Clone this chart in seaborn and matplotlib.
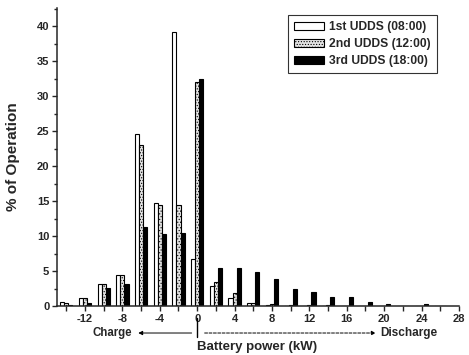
import numpy as np
import pandas as pd
import matplotlib
matplotlib.use("Agg")
import matplotlib.pyplot as plt
from matplotlib.ticker import MultipleLocator
import seaborn as sns

# Battery power bins (kW) and share of operating time (%) per drive cycle
power_kw = [-14, -12, -10, -8, -6, -4, -2, 0, 2, 4, 6, 8, 10, 12, 14, 16, 18, 20, 22, 24, 26]
udds_1st = [0.55, 1.1, 3.2, 4.5, 24.6, 14.7, 39.2, 6.7, 2.8, 1.2, 0.45, 0.15, 0.05, 0.05, 0.05, 0.0, 0.0, 0.0, 0.0, 0.0, 0.0]
udds_2nd = [0.5, 1.1, 3.1, 4.5, 23.0, 14.5, 14.4, 32.0, 3.4, 1.8, 0.45, 0.25, 0.1, 0.1, 0.15, 0.05, 0.0, 0.0, 0.0, 0.0, 0.0]
udds_3rd = [0.1, 0.5, 2.6, 3.2, 11.3, 10.3, 10.5, 32.4, 5.4, 5.5, 4.9, 3.9, 2.5, 2.05, 1.33, 1.25, 0.52, 0.24, 0.05, 0.33, 0.05]
series_names = ["1st UDDS (08:00)", "2nd UDDS (12:00)", "3rd UDDS (18:00)"]

df = pd.DataFrame({
    "power": power_kw * 3,
    "share": udds_1st + udds_2nd + udds_3rd,
    "cycle": np.repeat(series_names, len(power_kw)),
})

sns.set_style("ticks")
plt.rcParams["font.family"] = ["Liberation Sans", "DejaVu Sans"]
plt.rcParams["font.weight"] = "bold"
plt.rcParams["axes.labelweight"] = "bold"
plt.rcParams["axes.unicode_minus"] = False
plt.rcParams["hatch.color"] = "#7a7a7a"
plt.rcParams["hatch.linewidth"] = 0.5

fig = plt.figure(figsize=(4.69, 3.55), dpi=100)
ax = fig.add_axes([0.1215, 0.138, 0.857, 0.8395])

fills = ["white", "#e4e4e4", "black"]
hatches = [None, "......", None]
sns.barplot(data=df, x="power", y="share", hue="cycle", hue_order=series_names,
            palette=fills, native_scale=True, width=0.66, dodge=True,
            edgecolor="black", linewidth=0.8, errorbar=None, ax=ax, legend=False)

for container, hatch in zip(ax.containers, hatches):
    for bar in container:
        bar.set_edgecolor("black")
        if hatch:
            bar.set_hatch(hatch)

ax.set_xlim(-15, 28)
ax.set_ylim(0, 42.6)
ax.xaxis.set_minor_locator(MultipleLocator(2))
ax.yaxis.set_major_locator(MultipleLocator(5))
ax.yaxis.set_minor_locator(MultipleLocator(2.5))
ax.set_xticks(np.arange(-12, 29, 4))
ax.tick_params(axis="both", which="major", direction="out", length=3.5, width=1,
               labelsize=8, pad=2)
ax.tick_params(axis="both", which="minor", direction="out", length=3.5, width=1)
ax.tick_params(axis="y", which="minor", length=2)
sns.despine(ax=ax)
for side in ("left", "bottom"):
    ax.spines[side].set_linewidth(1.1)

ax.set_ylabel("% of Operation", fontsize=11)
ax.yaxis.set_label_coords(-0.092, 0.5)
ax.set_xlabel("Battery power (kW)", fontsize=9.5)
ax.xaxis.set_label_coords(0.4975, -0.116)

# Charge / discharge direction markers below the axis
trans = ax.get_xaxis_transform()
ax.plot([0, 0], [-0.04, -0.104], transform=trans, color="black", lw=1, clip_on=False)
ax.annotate("", xy=(-6.6, -0.0906), xytext=(-0.3, -0.0906), xycoords=trans,
            textcoords=trans, annotation_clip=False,
            arrowprops=dict(arrowstyle="-|>", color="black", lw=0.7, mutation_scale=6))
ax.annotate("", xy=(19.4, -0.0906), xytext=(0.5, -0.0906), xycoords=trans,
            textcoords=trans, annotation_clip=False,
            arrowprops=dict(arrowstyle="-|>", color="black", lw=0.7, ls=(0, (3, 1.5)),
                            mutation_scale=6))
ax.text(-7.0, -0.0906, "Charge", transform=trans, ha="right", va="center", fontsize=8.3)
ax.text(19.6, -0.0906, "Discharge", transform=trans, ha="left", va="center", fontsize=8.5)

handles = [plt.Rectangle((0, 0), 1, 1, facecolor=f, edgecolor="black", hatch=h, lw=0.8)
           for f, h in zip(fills, hatches)]
leg = ax.legend(handles, series_names, loc="upper right", bbox_to_anchor=(0.945, 0.976),
                fontsize=8.7, frameon=True, fancybox=False, edgecolor="black",
                handlelength=2.5, handleheight=0.7, handletextpad=0.4,
                borderpad=0.5, labelspacing=0.42, borderaxespad=0)
leg.get_frame().set_linewidth(0.8)

fig.savefig("out.png", dpi=100)
